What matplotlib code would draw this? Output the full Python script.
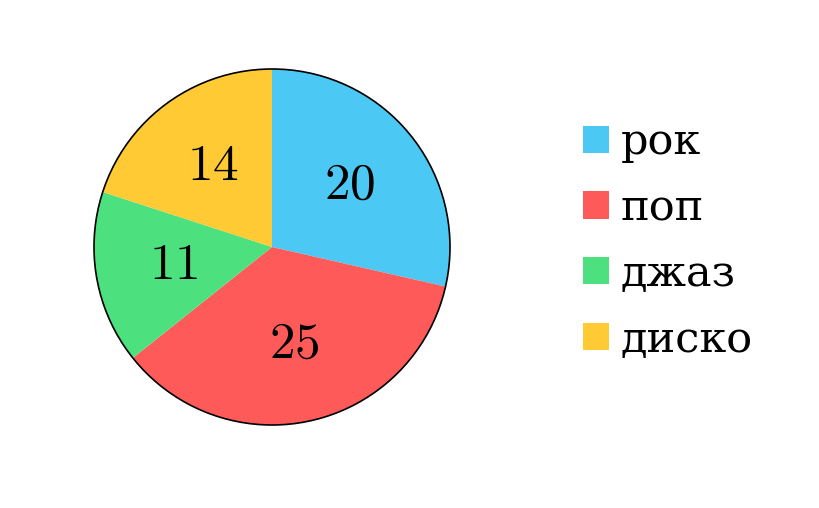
import numpy as np
import matplotlib
matplotlib.use("Agg")
import matplotlib.pyplot as plt
from matplotlib.patches import Circle, Patch

plt.rcParams['mathtext.fontset'] = 'cm'
plt.rcParams['font.family'] = ['DejaVu Serif']

genres = ['рок', 'поп', 'джаз', 'диско']
votes = [20, 25, 11, 14]
colors = ['#4CC8F4', '#FF5A5A', '#4DE07E', '#FFCA33']

total = sum(votes)

def fmt(pct):
    return '$%d$' % int(round(pct * total / 100.0))

fig = plt.figure(figsize=(8.2, 5.08), dpi=100)
# pie centre ~ (272, 247) px, radius ~178 px
R = 178
pad = 1.1
L = 272 - R * pad
B = 508 - (247 + R * pad)
ax = fig.add_axes([L / 820, B / 508, 2 * R * pad / 820, 2 * R * pad / 508])

wedges, _, autotexts = ax.pie(votes, colors=colors, startangle=90, counterclock=False,
                              autopct=fmt, pctdistance=0.56,
                              wedgeprops=dict(linewidth=0),
                              textprops=dict(fontsize=37, color='black'))
ax.add_patch(Circle((0, 0), 1, fill=False, edgecolor='black', linewidth=1.2))
ax.set_xlim(-pad, pad)
ax.set_ylim(-pad, pad)
ax.set_aspect('equal')
ax.axis('off')

handles = [Patch(facecolor=c, edgecolor='none') for c in colors]
fig.legend(handles, genres, loc='center left', bbox_to_anchor=(583 / 820, (508 - 241) / 508),
           frameon=False, fontsize=31, handlelength=0.6, handleheight=0.6,
           handletextpad=0.28, labelspacing=0.55, borderaxespad=0, borderpad=0)

fig.savefig('out.png', dpi=100)
